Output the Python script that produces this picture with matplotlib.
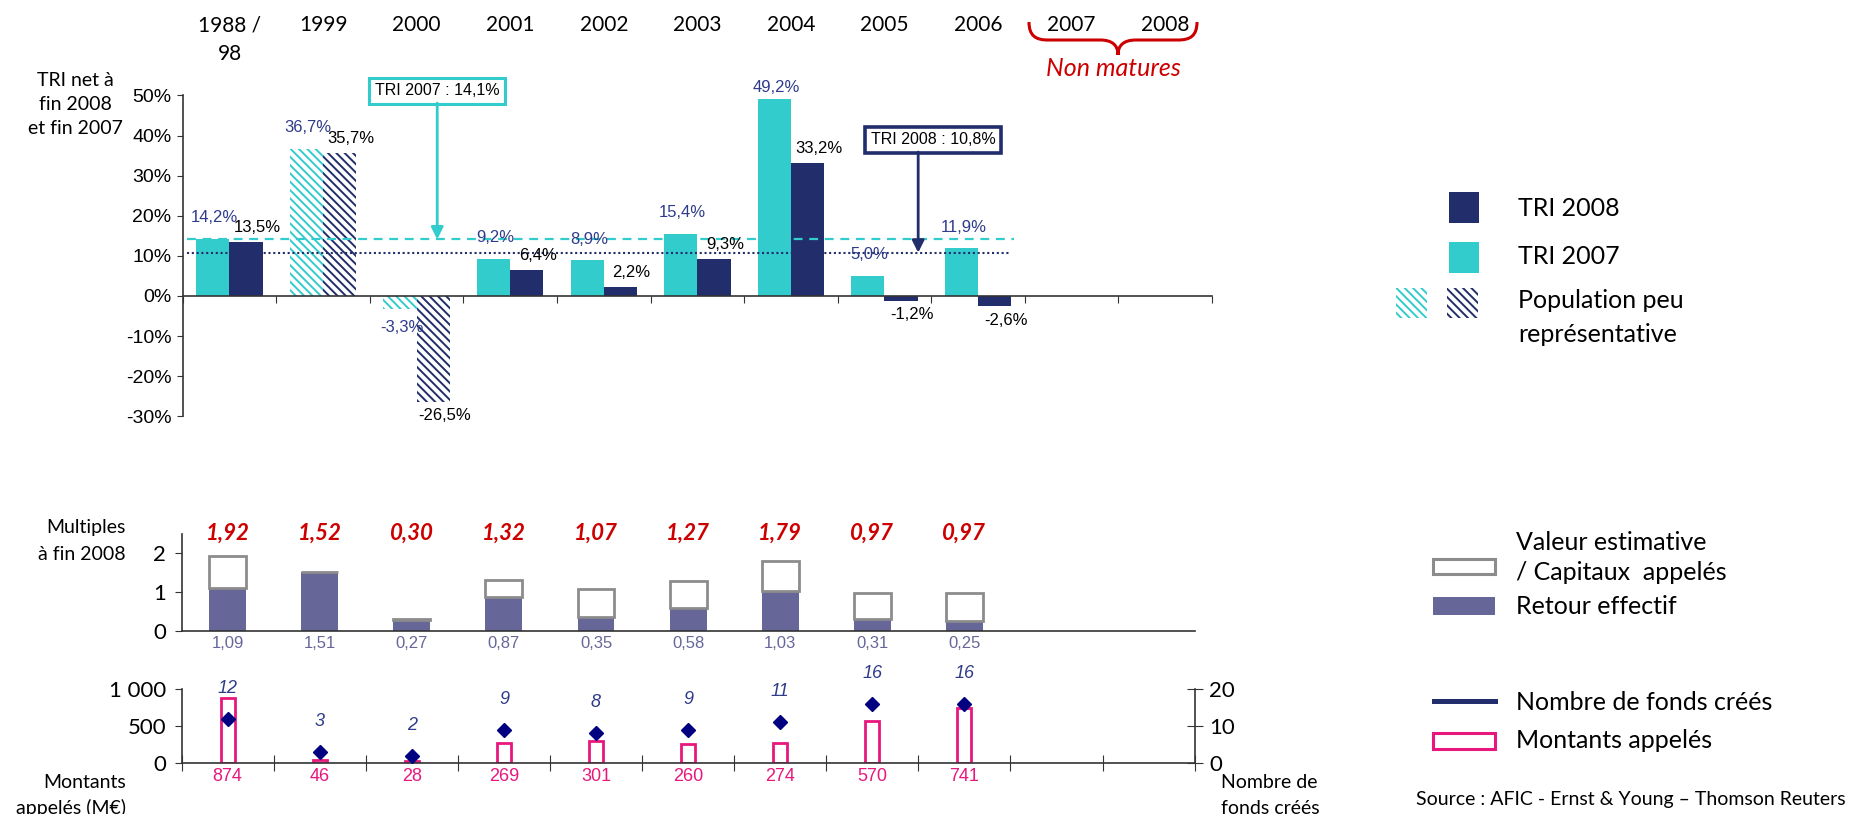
import numpy as np
import matplotlib.pyplot as plt
import matplotlib.transforms as mtransforms
from matplotlib.patches import Rectangle, PathPatch
from matplotlib.path import Path
from matplotlib.lines import Line2D

plt.rcParams['font.family'] = ['Lato', 'DejaVu Sans']
plt.rcParams['hatch.linewidth'] = 1.4

# ---- data ----
years = ["1988 /\n98", "1999", "2000", "2001", "2002", "2003", "2004", "2005", "2006", "2007", "2008"]
tri_2007 = [14.2, 36.7, -3.3, 9.2, 8.9, 15.4, 49.2, 5.0, 11.9]
tri_2008 = [13.5, 35.7, -26.5, 6.4, 2.2, 9.3, 33.2, -1.2, -2.6]
peu_repr = [False, True, True, False, False, False, False, False, False]
tri_2007_global = 14.1
tri_2008_global = 10.8
multiple_total = [1.92, 1.52, 0.30, 1.32, 1.07, 1.27, 1.79, 0.97, 0.97]
retour_effectif = [1.09, 1.51, 0.27, 0.87, 0.35, 0.58, 1.03, 0.31, 0.25]
montants = [874, 46, 28, 269, 301, 260, 274, 570, 741]
nb_fonds = [12, 3, 2, 9, 8, 9, 11, 16, 16]

W, H = 1850, 814
def fx(px): return px / W
def fy(py): return 1 - py / H

CYAN = '#33CCCC'
NAVY = '#222D6B'
LBLUE = '#2E3B8A'
PURPLE = '#666699'
GREY = '#8C8C8C'
PINK = '#E8177D'
RED = '#CC0000'
DIAM = '#000080'
AXC = '#333333'
ARIAL = ['Liberation Sans', 'DejaVu Sans']
HATCH = '\\\\\\\\'

def fr(v, nd=1):
    return f"{v:.{nd}f}".replace('.', ',')

fig = plt.figure(figsize=(W / 100, H / 100), dpi=100)

def ftext(x, y0, txt, dy, **kw):
    for k, line in enumerate(txt.split('\n')):
        fig.text(fx(x), fy(y0 + k * dy), line, va='center', **kw)

# ---- TRI chart ----
ax = fig.add_axes([fx(182.7), fy(416.3), 1029.3 / W, (416.3 - 95.5) / H])
x = np.arange(len(tri_2007))
bw = 0.355
for i in x:
    for off, val, col in [(-bw / 2, tri_2007[i], CYAN), (bw / 2, tri_2008[i], NAVY)]:
        if peu_repr[i]:
            ax.bar(i + off, val, bw, color='white', edgecolor=col, hatch=HATCH, linewidth=0)
        else:
            ax.bar(i + off, val, bw, color=col, linewidth=0)

for i in x:
    v = tri_2007[i]
    ly = min(v + 5.3, 52) if v >= 0 else v - 4.6
    ax.text(i - bw / 2 + 0.02, ly, fr(v) + '%', ha='center', va='center',
            color=LBLUE, fontsize=12, family=ARIAL)
    v = tri_2008[i]
    ly = v + 3.6 if v >= 0 else v - 3.4
    ax.text(i + bw / 2 + 0.12, ly, fr(v) + '%', ha='center', va='center',
            color='black', fontsize=12, family=ARIAL)

ax.plot([-0.45, 8.38], [tri_2007_global] * 2, color=CYAN, lw=1.6, ls=(0, (4, 3)))
ax.plot([-0.45, 8.35], [tri_2008_global] * 2, color=NAVY, lw=1.5, ls=(0, (1, 1.3)))

ax.text(2.22, 51.2, "TRI 2007 : " + fr(tri_2007_global) + "%", ha='center', va='center',
        fontsize=11.5, family=ARIAL, clip_on=False,
        bbox=dict(boxstyle='square,pad=0.35', fc='white', ec=CYAN, lw=2.2))
ax.annotate('', xy=(2.22, tri_2007_global), xytext=(2.22, 48.1),
            arrowprops=dict(arrowstyle='-|>', color=CYAN, lw=2, shrinkA=0, shrinkB=0,
                            mutation_scale=18), annotation_clip=False)
ax.text(7.52, 39.0, "TRI 2008 : " + fr(tri_2008_global) + "%", ha='center', va='center',
        fontsize=11.5, family=ARIAL, clip_on=False,
        bbox=dict(boxstyle='square,pad=0.35', fc='white', ec=NAVY, lw=2.6))
ax.annotate('', xy=(7.36, tri_2008_global), xytext=(7.36, 35.9),
            arrowprops=dict(arrowstyle='-|>', color=NAVY, lw=2, shrinkA=0, shrinkB=0,
                            mutation_scale=18), annotation_clip=False)

ax.set_xlim(-0.5, 10.5)
ax.set_ylim(-30, 50)
ax.spines['top'].set_visible(False)
ax.spines['right'].set_visible(False)
ax.spines['bottom'].set_position(('data', 0))
for s in ['left', 'bottom']:
    ax.spines[s].set_color(AXC)
    ax.spines[s].set_linewidth(1.2)
ax.set_xticks(np.arange(-0.5, 11, 1))
ax.tick_params(axis='x', direction='out', length=5, labelbottom=False, color=AXC)
ax.set_yticks(range(-30, 60, 10), [f"{t}%" for t in range(-30, 60, 10)])
ax.tick_params(axis='y', direction='out', length=4, pad=4, labelsize=14, color=AXC)
for lbl in ax.get_yticklabels():
    lbl.set_fontfamily(ARIAL)

blend = mtransforms.blended_transform_factory(ax.transData, fig.transFigure)
for i, lbl in enumerate(years):
    for k, line in enumerate(lbl.split('\n')):
        ax.text(i, fy(25 + 29 * k), line, transform=blend, ha='center', va='center', fontsize=15)

# brace over non-mature years
def P(px, py): return (fx(px), fy(py))
verts = [P(1029, 22), P(1029, 36), P(1036, 40), P(1048, 40), P(1100, 40),
         P(1112, 40), P(1118, 45), P(1118, 55), P(1118, 45), P(1124, 40), P(1136, 40),
         P(1178, 40), P(1190, 40), P(1197, 36), P(1197, 22)]
codes = [Path.MOVETO] + [Path.CURVE4] * 3 + [Path.LINETO] + [Path.CURVE4] * 6 + \
        [Path.LINETO] + [Path.CURVE4] * 3
fig.add_artist(PathPatch(Path(verts, codes), fc='none', ec=RED, lw=2.2,
                         transform=fig.transFigure))
fig.text(fx(1113), fy(68), "Non matures", color=RED, style='italic', fontsize=18,
         ha='center', va='center')

ftext(75, 80, "TRI net à\nfin 2008\net fin 2007", 24, ha='center', fontsize=14)

# ---- Multiples chart ----
ax2 = fig.add_axes([fx(181.6), fy(631), 1013 / W, 97.5 / H])
xm = np.arange(len(multiple_total))
ax2.bar(xm, retour_effectif, 0.4, color=PURPLE, linewidth=0)
ax2.bar(xm, np.array(multiple_total) - np.array(retour_effectif), 0.4, bottom=retour_effectif,
        color='white', edgecolor=GREY, linewidth=2)
for i in xm:
    ax2.text(i, 2.52, fr(multiple_total[i], 2), ha='center', va='center', color=RED,
             fontsize=16, fontweight='bold', style='italic')
    ax2.annotate(fr(retour_effectif[i], 2), (i, 0), xytext=(0, -9), textcoords='offset points',
                 ha='center', va='center', color=PURPLE, fontsize=12, family=ARIAL)
ax2.set_xlim(-0.5, 10.5)
ax2.set_ylim(0, 2.5)
ax2.spines['top'].set_visible(False)
ax2.spines['right'].set_visible(False)
for s in ['left', 'bottom']:
    ax2.spines[s].set_color(AXC)
    ax2.spines[s].set_linewidth(1.2)
ax2.set_xticks([])
ax2.set_yticks([0, 1, 2])
ax2.tick_params(axis='y', direction='out', length=5, pad=6, labelsize=16, color=AXC)

ftext(126, 527, "Multiples\nà fin 2008", 28, ha='right', fontsize=14)

# ---- Montants / nombre de fonds ----
ax3 = fig.add_axes([fx(181.6), fy(763), 1013 / W, 74 / H])
ax3.bar(xm, montants, 0.15, color='white', edgecolor=PINK, linewidth=2)
for i in xm:
    ax3.annotate(str(montants[i]), (i, 0), xytext=(0, -10), textcoords='offset points',
                 ha='center', va='center', color=PINK, fontsize=13, family=ARIAL)
ax3.set_xlim(-0.5, 10.5)
ax3.set_ylim(0, 1000)
ax3.spines['top'].set_visible(False)
ax3.spines['right'].set_visible(False)
for s in ['left', 'bottom']:
    ax3.spines[s].set_color(AXC)
    ax3.spines[s].set_linewidth(1.2)
ax3.set_xticks(np.arange(-0.5, 11, 1))
ax3.tick_params(axis='x', direction='inout', length=11, labelbottom=False, color=AXC)
ax3.set_yticks([0, 500, 1000], ['0', '500', '1 000'])
ax3.tick_params(axis='y', direction='out', length=5, pad=6, labelsize=16, color=AXC)

ax3r = ax3.twinx()
ax3r.plot(xm, nb_fonds, 'D', color=DIAM, ms=7.5, ls='none', clip_on=False)
for i in xm:
    ax3r.annotate(str(nb_fonds[i]), (i, nb_fonds[i]), xytext=(0, 22), textcoords='offset points',
                  ha='center', va='center', color=LBLUE, fontsize=13, style='italic',
                  family=ARIAL)
ax3r.set_ylim(0, 20)
for s in ['top', 'left', 'bottom']:
    ax3r.spines[s].set_visible(False)
ax3r.spines['right'].set_color(AXC)
ax3r.spines['right'].set_linewidth(1.2)
ax3r.set_yticks([0, 10, 20])
ax3r.tick_params(axis='y', direction='inout', length=11, pad=5, labelsize=16, color=AXC)

ftext(126, 783, "Montants\nappelés (M€)", 25, ha='right', fontsize=14)
ftext(1221, 783, "Nombre de\nfonds créés", 25, ha='left', fontsize=14)

# ---- legends ----
def frect(x0, y0, x1, y1, **kw):
    fig.add_artist(Rectangle((fx(x0), fy(y1)), (x1 - x0) / W, (y1 - y0) / H,
                             transform=fig.transFigure, **kw))

frect(1449, 192, 1479, 223, color=NAVY, lw=0)
ftext(1518, 209, "TRI 2008", 0, fontsize=18)
frect(1449, 242, 1479, 273, color=CYAN, lw=0)
ftext(1518, 257, "TRI 2007", 0, fontsize=18)
frect(1396, 288, 1427, 318, fc='white', ec=CYAN, hatch=HATCH, lw=0)
frect(1447, 288, 1478, 318, fc='white', ec=NAVY, hatch=HATCH, lw=0)
ftext(1518, 300, "Population peu\nreprésentative", 35, fontsize=18)

frect(1433, 559, 1495, 574, fc='white', ec=GREY, lw=2.2)
ftext(1516, 542, "Valeur estimative\n/ Capitaux  appelés", 30, fontsize=18)
frect(1433, 597, 1495, 615, color=PURPLE, lw=0)
ftext(1516, 607, "Retour effectif", 0, fontsize=18)
fig.add_artist(Line2D([fx(1434), fx(1495)], [fy(701), fy(701)], color=NAVY, lw=3.6,
                      transform=fig.transFigure))
ftext(1516, 702, "Nombre de fonds créés", 0, fontsize=18)
frect(1433, 733, 1495, 749, fc='white', ec=PINK, lw=2.2)
ftext(1516, 741, "Montants appelés", 0, fontsize=18)

ftext(1846, 800, "Source : AFIC - Ernst & Young – Thomson Reuters", 0, ha='right', fontsize=14)

fig.savefig("out.png", dpi=100)
